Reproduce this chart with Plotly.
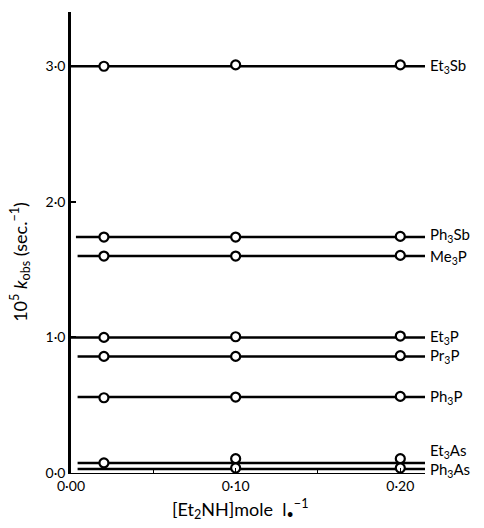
import plotly.graph_objects as go

# Data
series = ["Et<sub>3</sub>Sb", "Ph<sub>3</sub>Sb", "Me<sub>3</sub>P", "Et<sub>3</sub>P",
          "Pr<sub>3</sub>P", "Ph<sub>3</sub>P", "Et<sub>3</sub>As", "Ph<sub>3</sub>As"]
line_level = [3.00, 1.74, 1.60, 1.00, 0.86, 0.56, 0.074, 0.03]
line_start = [0.000, 0.003, 0.004, 0.000, 0.004, 0.004, 0.004, 0.004]
line_end = [0.215, 0.215, 0.215, 0.215, 0.215, 0.215, 0.215, 0.215]
point_x = [[0.02, 0.10, 0.20], [0.02, 0.10, 0.20], [0.02, 0.10, 0.20], [0.02, 0.10, 0.20],
           [0.02, 0.10, 0.20], [0.02, 0.10, 0.20], [0.02, 0.10, 0.20], [0.10, 0.20]]
point_y = [[3.00, 3.01, 3.01], [1.74, 1.74, 1.745], [1.60, 1.60, 1.605], [1.00, 1.005, 1.01],
           [0.86, 0.86, 0.865], [0.555, 0.56, 0.565], [0.074, 0.106, 0.106], [0.037, 0.037]]
label_y = [3.00, 1.755, 1.59, 1.00, 0.86, 0.56, 0.165, 0.02]

y_tickvals = [0, 1, 2, 3]
y_ticktext = ["0·0", "1·0", "2·0", "3·0"]
x_tickvals = [0, 0.05, 0.10, 0.15, 0.20]
x_ticktext = ["0·00", "", "0·10", "", "0·20"]

FONT = "Lato"
fig = go.Figure()
for i, name in enumerate(series):
    fig.add_trace(go.Scatter(x=[line_start[i], line_end[i]], y=[line_level[i], line_level[i]],
                             mode="lines", line=dict(color="black", width=2.5),
                             showlegend=False, hoverinfo="skip"))
for i, name in enumerate(series):
    fig.add_trace(go.Scatter(x=point_x[i], y=point_y[i], mode="markers",
                             marker=dict(symbol="circle", size=9, color="white",
                                         line=dict(color="black", width=2.2)),
                             showlegend=False, name=name))
    fig.add_annotation(x=line_end[i], y=label_y[i], xref="x", yref="y", text=name,
                       showarrow=False, xanchor="left", yanchor="middle", xshift=3,
                       font=dict(family=FONT, size=15, color="black"))

fig.add_annotation(xref="paper", yref="paper", x=0, y=0.458, xshift=-51,
                   text="10<sup>5</sup> <i>k</i><sub>obs</sub> (sec.<sup>−1</sup>)",
                   textangle=-90, showarrow=False, xanchor="center", yanchor="middle",
                   font=dict(family=FONT, size=18, color="black"))
fig.add_annotation(xref="paper", yref="paper", x=0.478, y=0, yshift=-36,
                   text="[Et<sub>2</sub>NH]mole  l<sub>•</sub><sup>−1</sup>",
                   showarrow=False, xanchor="center", yanchor="middle",
                   font=dict(family=FONT, size=18, color="black"))

fig.update_layout(
    width=484, height=528,
    margin=dict(l=71, r=59, t=12, b=55),
    paper_bgcolor="white", plot_bgcolor="white",
    font=dict(family=FONT, size=14, color="black"),
    xaxis=dict(range=[0, 0.215], tickvals=x_tickvals, ticktext=x_ticktext,
               ticks="inside", ticklen=5, tickwidth=1.2, tickcolor="black",
               showline=True, linecolor="black", linewidth=1.2, showgrid=False,
               zeroline=False, tickfont=dict(family=FONT, size=14)),
    yaxis=dict(range=[0, 3.4], tickvals=y_tickvals, ticktext=y_ticktext,
               ticks="inside", ticklen=5, tickwidth=1.5, tickcolor="black",
               showline=True, linecolor="black", linewidth=2.5, showgrid=False,
               zeroline=False, tickfont=dict(family=FONT, size=14)),
)
fig.write_html("out.html", config={"displayModeBar": False},
               post_script="document.body.style.margin='0';document.body.style.overflow='hidden';")
